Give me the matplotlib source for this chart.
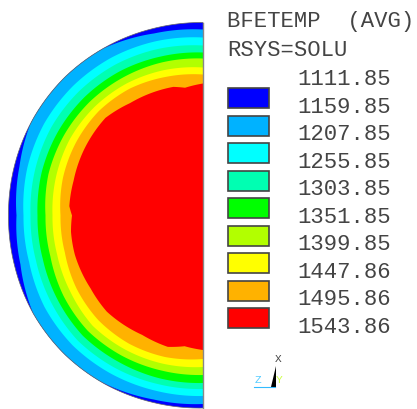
import numpy as np
import matplotlib
matplotlib.use("Agg")
import matplotlib.pyplot as plt
from matplotlib.patches import Rectangle

# ── Values ────────────────────────────────────────────────────────────────────
title_lines = ["BFETEMP  (AVG)", "RSYS=SOLU"]
levels = ["1111.85", "1159.85", "1207.85", "1255.85", "1303.85",
          "1351.85", "1399.85", "1447.86", "1495.86", "1543.86"]
colors = ["#0000ff", "#00b2ff", "#00ffff", "#00ffb2", "#00ff00",
          "#b2ff00", "#ffff00", "#ffb200", "#ff0000"]

# band depth below the outer surface, by angle from the top going round the left
angles = [0, 15, 30, 45, 60, 75, 90, 105, 120, 135, 150, 165, 180]
outer_radius = [193, 193.5, 194.5, 195.5, 195.5, 195, 194.5, 195, 196, 196, 195, 193.5, 192.5]
depth_ltblue = [15, 13, 12, 12, 12, 13, 15, 15, 13, 12, 12, 12, 12]
depth_cyan   = [23, 21, 20, 20, 20, 21, 22, 22, 21, 19, 19, 19, 19]
depth_teal   = [30, 29, 28, 28, 28, 28, 29, 29, 28, 26, 26, 25, 25]
depth_green  = [36, 35, 35, 35, 35, 35, 37, 37, 35, 33, 33, 33, 33]
depth_lime   = [45, 43, 42, 42, 42, 43, 44, 44, 43, 40, 40, 40, 41]
depth_yellow = [52, 50, 48, 48, 49, 50, 52, 52, 50, 48, 47, 47, 49]
# the coolest band dies out on the diagonals
blue_angles = [0, 15, 31, 62, 75, 90, 105, 120, 148, 165, 180]
depth_blue  = [7, 5, 0, 0, 5, 8, 6, 0, 0, 3, 4]
# the hot core has a rougher edge, so it gets its own angles and plain radii
core_angles = [0, 8, 13, 33, 45, 61, 75, 86, 90, 97, 107, 123, 135, 153, 165, 172, 180]
core_radius = [132, 129, 132, 134, 138, 136, 134, 134, 131, 133, 134, 134, 136, 134, 136, 132, 134.5]

CX, CY = 203, 215.5

# ── Drawing ───────────────────────────────────────────────────────────────────
th = np.linspace(0, 180, 361)

def to_xy(r):
    t = np.radians(th)
    return CX - r * np.sin(t), CY - r * np.cos(t)

def band_xy(ang, depth):
    return to_xy(np.interp(th, angles, outer_radius) - np.interp(th, ang, depth))

fig = plt.figure(figsize=(4.17, 4.09), dpi=100)
ax = fig.add_axes([0, 0, 1, 1])
ax.set_xlim(0, 417)
ax.set_ylim(409, 0)
ax.axis("off")

x, y = band_xy(angles, [0] * len(angles))
ax.fill(x, y, color=colors[0], lw=0)
x, y = band_xy(blue_angles, depth_blue)
ax.fill(x, y, color=colors[1], lw=0)
for d, c in zip([depth_ltblue, depth_cyan, depth_teal, depth_green, depth_lime, depth_yellow],
                colors[2:8]):
    x, y = band_xy(angles, d)
    ax.fill(x, y, color=c, lw=0)
x, y = to_xy(np.interp(th, core_angles, core_radius))
ax.fill(x, y, color=colors[8], lw=0)

x, y = band_xy(angles, [0] * len(angles))
ax.plot(x, y, color="#666666", lw=0.5)
ax.plot([CX, CX], [y[0], y[-1]], color="#888888", lw=1.0)

# legend
font = dict(family="Liberation Mono", fontsize=16, color="#444444")
ax.text(227, 22, title_lines[0], va="center", ha="left", **font)
ax.text(227, 50, title_lines[1], va="center", ha="left", **font)
for i, lab in enumerate(levels):
    ax.text(297, 79.5 + i * 27.55, lab, va="center", ha="left", **font)
for i, c in enumerate(colors):
    ax.add_patch(Rectangle((228, 88 + i * 27.55), 41, 20, fc=c, ec="#444444", lw=1.2))

# triad
ax.fill([271.5, 275.7, 275.7], [387, 387, 366], color="black", lw=0)
ax.plot([254, 275], [387, 387], color="#33bbff", lw=0.8)
small = dict(family="Liberation Mono", fontsize=8, va="center", ha="center")
ax.text(278.5, 359, "X", color="#444444", **small)
ax.text(257.5, 380, "Z", color="#55ccff", **small)
ax.text(279, 380, "Y", color="#ccff44", **small)

fig.savefig("out.png", dpi=100)
